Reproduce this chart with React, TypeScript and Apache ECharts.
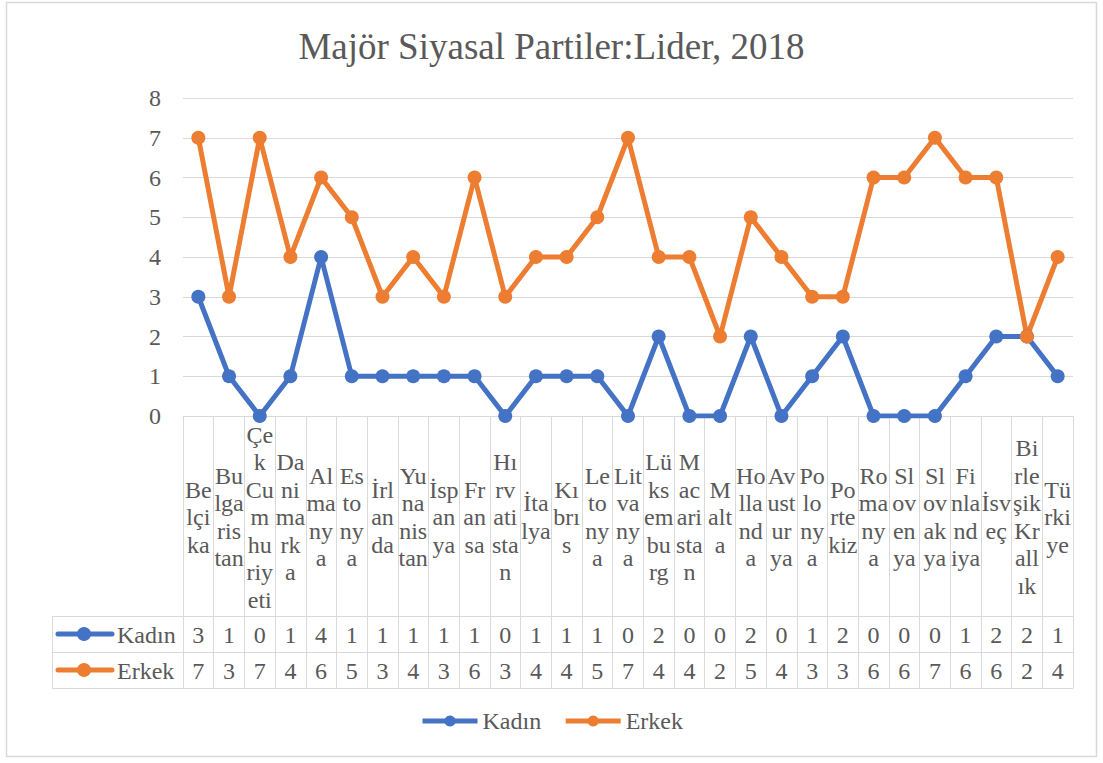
import React, { useEffect, useRef } from "react";
import * as echarts from "echarts";

const categories = [
  "Belçika", "Bulgaristan", "Çek Cumhuriyeti", "Danimarka", "Almanya", "Estonya", "İrlanda",
  "Yunanistan", "İspanya", "Fransa", "Hırvatistan", "İtalya", "Kıbrıs", "Letonya", "Litvanya",
  "Lüksemburg", "Macaristan", "Malta", "Hollanda", "Avusturya", "Polonya", "Portekiz", "Romanya",
  "Slovenya", "Slovakya", "Finlandiya", "İsveç", "Birleşik Krallık", "Türkiye",
];

const categoryLabels = [
  "Be\nlçi\nka", "Bu\nlga\nris\ntan", "Çe\nk\nCu\nm\nhu\nriy\neti", "Da\nni\nma\nrk\na",
  "Al\nma\nny\na", "Es\nto\nny\na", "İrl\nan\nda", "Yu\nna\nnis\ntan", "İsp\nan\nya",
  "Fr\nan\nsa", "Hı\nrv\nati\nsta\nn", "İta\nlya", "Kı\nbrı\ns", "Le\nto\nny\na",
  "Lit\nva\nny\na", "Lü\nks\nem\nbu\nrg", "M\nac\nari\nsta\nn", "M\nalt\na",
  "Ho\nlla\nnd\na", "Av\nust\nur\nya", "Po\nlo\nny\na", "Po\nrte\nkiz", "Ro\nma\nny\na",
  "Sl\nov\nen\nya", "Sl\nov\nak\nya", "Fi\nnla\nnd\niya", "İsv\neç",
  "Bi\nrle\nşik\nKr\nall\nık", "Tü\nrki\nye",
];

const kadin = [3, 1, 0, 1, 4, 1, 1, 1, 1, 1, 0, 1, 1, 1, 0, 2, 0, 0, 2, 0, 1, 2, 0, 0, 0, 1, 2, 2, 1];
const erkek = [7, 3, 7, 4, 6, 5, 3, 4, 3, 6, 3, 4, 4, 5, 7, 4, 4, 2, 5, 4, 3, 3, 6, 6, 7, 6, 6, 2, 4];

const seriesNames = ["Kadın", "Erkek"];
const colors = ["#4472C4", "#ED7D31"];
const yTicks = { min: 0, max: 8, interval: 1 };

const FONT = "Liberation Serif";
const FS = 24;
const TXT = "#595959";
const GRID_C = "#d9d9d9";

export default function App() {
  const ref = useRef<HTMLDivElement>(null);
  useEffect(() => {
    if (!ref.current) return;
    const chart = echarts.init(ref.current, undefined, { renderer: "svg" });
    const gridLeft = 183;
    const gridRight = 1073;
    const rowTop = 616;
    const rowH = 36;
    const legendKey = (y: number, color: string, name: string) => [
      { type: "line", shape: { x1: 58, y1: y, x2: 112, y2: y }, style: { stroke: color, lineWidth: 5, lineCap: "round" } },
      { type: "circle", shape: { cx: 84, cy: y, r: 7 }, style: { fill: color } },
      { type: "text", x: 117, y: y + 1, style: { text: name, fill: TXT, fontFamily: FONT, fontSize: FS, verticalAlign: "middle", align: "left" } },
    ];
    const rowLabel = (vals: number[]) => ({
      interval: 0,
      margin: rowH / 2 + 1,
      verticalAlign: "middle",
      formatter: (_v: string, i: number) => String(vals[i]),
      fontFamily: FONT,
      fontSize: FS,
      color: TXT,
    });
    chart.setOption({
      animation: false,
      backgroundColor: "#fff",
      textStyle: { fontFamily: FONT },
      title: {
        text: "Majör Siyasal Partiler:Lider, 2018",
        left: "center",
        top: 23,
        textStyle: { fontFamily: FONT, fontSize: 37, fontWeight: "normal", color: TXT },
      },
      grid: { left: gridLeft, right: 1103 - gridRight, top: 98, bottom: 763 - 416 },
      legend: {
        data: seriesNames,
        top: 704,
        left: "center",
        itemWidth: 55,
        itemHeight: 14,
        itemGap: 22,
        lineStyle: { width: 5 },
        textStyle: { fontFamily: FONT, fontSize: FS, color: TXT },
      },
      xAxis: [
        {
          type: "category",
          data: categories,
          axisLine: { show: true, lineStyle: { color: GRID_C, width: 1 } },
          axisTick: { show: true, interval: 0, length: 272, lineStyle: { color: GRID_C, width: 1 } },
          axisLabel: {
            interval: 0,
            margin: 101,
            verticalAlign: "middle",
            formatter: (_v: string, i: number) => categoryLabels[i],
            fontFamily: FONT,
            fontSize: FS,
            lineHeight: 27.5,
            color: TXT,
          },
        },
        {
          type: "category",
          data: categories,
          position: "bottom",
          offset: rowTop - 416,
          axisLine: { show: true, lineStyle: { color: GRID_C, width: 1 } },
          axisTick: { show: false },
          axisLabel: rowLabel(kadin),
        },
        {
          type: "category",
          data: categories,
          position: "bottom",
          offset: rowTop + rowH - 416,
          axisLine: { show: true, lineStyle: { color: GRID_C, width: 1 } },
          axisTick: { show: false },
          axisLabel: rowLabel(erkek),
        },
        {
          type: "category",
          data: categories,
          position: "bottom",
          offset: rowTop + 2 * rowH - 416,
          axisLine: { show: true, lineStyle: { color: GRID_C, width: 1 } },
          axisTick: { show: false },
          axisLabel: { show: false },
        },
      ],
      yAxis: {
        type: "value",
        min: yTicks.min,
        max: yTicks.max,
        interval: yTicks.interval,
        axisLine: { show: false },
        axisTick: { show: false },
        splitLine: { lineStyle: { color: GRID_C, width: 1 } },
        axisLabel: { fontFamily: FONT, fontSize: FS, color: TXT, margin: 22 },
      },
      series: seriesNames.map((name, k) => ({
        name,
        type: "line",
        data: k === 0 ? kadin : erkek,
        color: colors[k],
        lineStyle: { width: 5, color: colors[k] },
        symbol: "circle",
        symbolSize: 14,
        itemStyle: { color: colors[k] },
      })),
      graphic: [
        { type: "rect", shape: { x: 6.5, y: 2.5, width: 1090, height: 754 }, style: { fill: "none", stroke: GRID_C, lineWidth: 1.5 }, silent: true },
        { type: "line", shape: { x1: 52.5, y1: rowTop + 0.5, x2: gridLeft, y2: rowTop + 0.5 }, style: { stroke: GRID_C, lineWidth: 1 } },
        { type: "line", shape: { x1: 52.5, y1: rowTop + rowH + 0.5, x2: gridLeft, y2: rowTop + rowH + 0.5 }, style: { stroke: GRID_C, lineWidth: 1 } },
        { type: "line", shape: { x1: 52.5, y1: rowTop + 2 * rowH + 0.5, x2: gridLeft, y2: rowTop + 2 * rowH + 0.5 }, style: { stroke: GRID_C, lineWidth: 1 } },
        { type: "line", shape: { x1: 52.5, y1: rowTop, x2: 52.5, y2: rowTop + 2 * rowH + 0.5 }, style: { stroke: GRID_C, lineWidth: 1 } },
        ...legendKey(rowTop + rowH / 2, colors[0], seriesNames[0]),
        ...legendKey(rowTop + rowH * 1.5, colors[1], seriesNames[1]),
      ],
    });
    return () => chart.dispose();
  }, []);
  return (
    <div
      ref={ref}
      style={{ position: "fixed", left: 0, top: 0, width: 1103, height: 763, background: "#fff" }}
    />
  );
}
